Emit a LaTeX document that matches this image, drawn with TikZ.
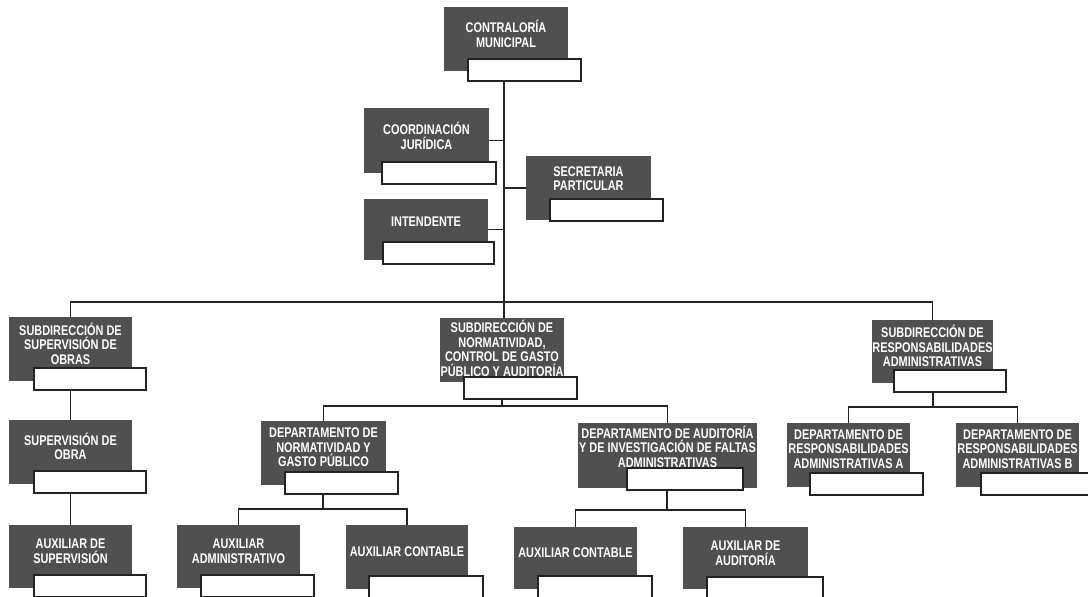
\documentclass[tikz,border=0pt]{standalone}
\usepackage{fontspec}
\newfontfamily\boxfont{Liberation Sans}[FakeStretch=0.78]
\definecolor{boxgrey}{RGB}{80,80,80}
\definecolor{linegrey}{RGB}{35,35,35}
\tikzset{
  greybox/.style={rectangle, fill=boxgrey, draw=none, inner sep=0pt, outer sep=0pt},
  whitebox/.style={rectangle, fill=white, draw=linegrey, line width=1.2pt, inner sep=0pt, outer sep=0pt},
  boxlabel/.style={text=white, font=\boxfont\bfseries\fontsize{14}{14.5}\selectfont, align=center, inner sep=0pt},
  conn/.style={draw=linegrey, line width=1.3pt},
}
% id, grey x1, grey y1, grey x2, grey y2, white x1, white y1, white x2, text
\newcommand\orgunit[9]{%
  \node[greybox, minimum width={(#4)-(#2)}, minimum height={(#5)-(#3)}] (#1) at ({((#2)+(#4))/2},{((#3)+(#5))/2}) {};
  \node[whitebox, minimum width={(#8)-(#6)}, minimum height=22] (#1-w) at ({((#6)+(#8))/2},{(#7)+11}) {};
  \node[boxlabel] (#1-t) at ({((#2)+(#4))/2},{((#3)+(#7))/2+1}) {#9};
}
\begin{document}
\begin{tikzpicture}[x=1pt,y=-1pt]
\path[use as bounding box] (0,0) rectangle (1088,597);
\clip (0,0) rectangle (1088,597);
\fill[white] (0,0) rectangle (1088,597);

\orgunit{cm}{444}{7}{568}{71}{468}{59}{581}{CONTRALORÍA\\MUNICIPAL}
\orgunit{cj}{364}{108}{489}{173}{382}{162}{496}{COORDINACIÓN\\JURÍDICA}
\orgunit{int}{364}{199}{488}{260}{383}{242}{494}{INTENDENTE}
\orgunit{sp}{526}{156}{651}{220}{550}{199}{663}{SECRETARIA\\PARTICULAR}
\orgunit{so}{9}{317}{132}{381}{34}{368}{146}{SUBDIRECCIÓN DE\\SUPERVISIÓN DE\\OBRAS}
\orgunit{sn}{440}{318}{564}{382}{464}{377}{577}{SUBDIRECCIÓN DE\\NORMATIVIDAD,\\CONTROL DE GASTO\\PÚBLICO Y AUDITORÍA}
\orgunit{sr}{872}{320}{993}{383}{894}{370}{1006}{SUBDIRECCIÓN DE\\RESPONSABILIDADES\\ADMINISTRATIVAS}
\orgunit{sup}{9}{420}{132}{484}{34}{471}{146}{SUPERVISIÓN DE\\OBRA}
\orgunit{dn}{261}{421}{386}{485}{285}{472}{398}{DEPARTAMENTO DE\\NORMATIVIDAD Y\\GASTO PÚBLICO}
\orgunit{da}{578}{423}{757}{488}{627}{468}{743}{DEPARTAMENTO DE AUDITORÍA\\Y DE INVESTIGACIÓN DE FALTAS\\ADMINISTRATIVAS}
\orgunit{ra}{787}{423}{910}{487}{810}{473}{923}{DEPARTAMENTO DE\\RESPONSABILIDADES\\ADMINISTRATIVAS A}
\orgunit{rb}{956}{423}{1079}{487}{981}{473}{1096}{DEPARTAMENTO DE\\RESPONSABILIDADES\\ADMINISTRATIVAS B}
\orgunit{asv}{9}{525}{132}{588}{34}{575}{146}{AUXILIAR DE\\SUPERVISIÓN}
\orgunit{aa}{177}{525}{300}{588}{201}{575}{314}{AUXILIAR\\ADMINISTRATIVO}
\orgunit{aca}{346}{525}{468}{589}{369}{576}{483}{AUXILIAR CONTABLE}
\orgunit{acb}{514}{527}{637}{589}{538}{576}{652}{AUXILIAR CONTABLE}
\orgunit{ad}{683}{527}{808}{589}{707}{577}{823}{AUXILIAR DE\\AUDITORÍA}

\coordinate (trunk) at (504,302);
\coordinate (nbus) at (502,406);
\coordinate (rbus) at (933,407);
\coordinate (dnbus) at (323,509);
\coordinate (dabus) at (667,510);

\draw[conn] (cm-w.south -| trunk) -- (trunk);
\draw[conn] (cj.east) -- (cj.east -| trunk);
\draw[conn] (int.east) -- (int.east -| trunk);
\draw[conn] (sp.west) -- (sp.west -| trunk);
\draw[conn] (so.north) |- (trunk) -| (sr.north);
\draw[conn] (trunk) -- (trunk |- sn.north);
\draw[conn] (sn-w.south -| nbus) -- (nbus);
\draw[conn] (dn.north) |- (nbus) -| (da.north);
\draw[conn] (sr-w.south -| rbus) -- (rbus);
\draw[conn] (ra.north) |- (rbus) -| (rb.north);
\draw[conn] (so-w.south -| so.north) -- (sup.north);
\draw[conn] (sup-w.south -| sup.north) -- (asv.north);
\draw[conn] (dn-w.south -| dnbus) -- (dnbus);
\draw[conn] (aa.north) |- (dnbus) -| (aca.north);
\draw[conn] (da-w.south -| dabus) -- (dabus);
\draw[conn] (acb.north) |- (dabus) -| (ad.north);
\end{tikzpicture}
\end{document}
